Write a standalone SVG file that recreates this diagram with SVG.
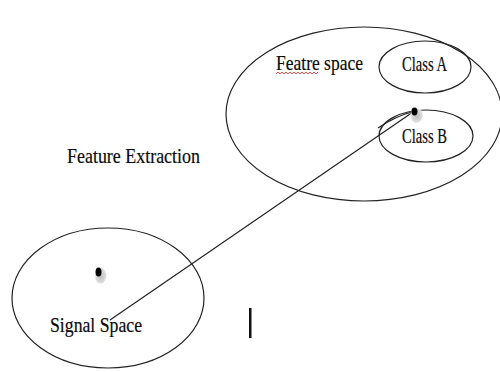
<svg xmlns="http://www.w3.org/2000/svg" width="500" height="372" viewBox="0 0 500 372">
  <style>
    .ring { fill: none; stroke: #222; stroke-width: 1.2; }
    .lbl { font-family: "Liberation Serif", "Times New Roman", serif; font-size: 22px; fill: #0a0a0a; stroke: #0a0a0a; stroke-width: 0.2; }
    .link { stroke: #222; stroke-width: 1.2; fill: none; }
  </style>
  <defs>
    <radialGradient id="halo" cx="0.55" cy="0.6" r="0.5">
      <stop offset="0" stop-color="#bdbdbd"/>
      <stop offset="0.7" stop-color="#dcdcdc"/>
      <stop offset="1" stop-color="#ffffff" stop-opacity="0"/>
    </radialGradient>
  </defs>
  <rect width="500" height="372" fill="#fff"/>

  <!-- connector between the two spaces -->
  <g id="connectors">
    <line class="link" x1="110" y1="320" x2="413" y2="112"/>
    <path class="link" d="M378,128 Q396,116 412,112" stroke-width="0.9"/>
  </g>

  <g id="feature-space">
    <ellipse class="ring" cx="364" cy="114" rx="138" ry="87"/>
    <text class="lbl" x="276" y="70" textLength="87" lengthAdjust="spacingAndGlyphs">Featre space</text>
    <path d="M276,74 l2,-2 l2,2 l2,-2 l2,2 l2,-2 l2,2 l2,-2 l2,2 l2,-2 l2,2 l2,-2 l2,2 l2,-2 l2,2 l2,-2 l2,2 l2,-2 l2,2 l2,-2 l2,2 l2,-2" fill="none" stroke="#e02020" stroke-width="0.8"/>
  </g>

  <g id="class-a">
    <ellipse class="ring" cx="425" cy="67" rx="46" ry="26"/>
    <text class="lbl" x="402" y="71" textLength="45" lengthAdjust="spacingAndGlyphs">Class A</text>
  </g>

  <g id="class-b">
    <ellipse class="ring" cx="426" cy="136" rx="47" ry="26"/>
    <text class="lbl" x="402" y="143" textLength="45" lengthAdjust="spacingAndGlyphs">Class B</text>
  </g>

  <g id="feature-point">
    <ellipse cx="416" cy="114" rx="7.5" ry="9" fill="url(#halo)"/>
    <ellipse cx="414.5" cy="111.5" rx="3" ry="4" fill="#000"/>
  </g>

  <g id="feature-extraction">
    <text class="lbl" x="67" y="163" textLength="133" lengthAdjust="spacingAndGlyphs">Feature Extraction</text>
  </g>

  <g id="signal-space">
    <ellipse class="ring" cx="108" cy="298" rx="96" ry="70"/>
    <text class="lbl" x="50" y="332" textLength="92" lengthAdjust="spacingAndGlyphs">Signal Space</text>
  </g>

  <g id="signal-point">
    <ellipse cx="100" cy="274" rx="7" ry="10" fill="url(#halo)"/>
    <ellipse cx="98.5" cy="272" rx="3" ry="4.5" fill="#000"/>
  </g>

  <!-- text cursor -->
  <rect x="249" y="308" width="2.5" height="30" fill="#111"/>
</svg>
